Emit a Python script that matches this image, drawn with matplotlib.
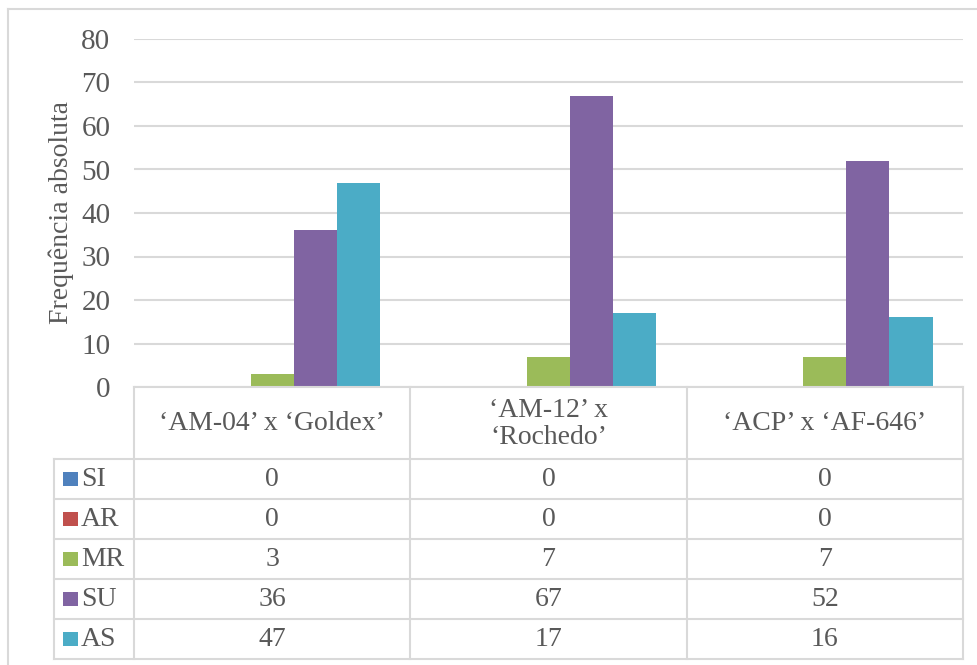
import numpy as np
import matplotlib
matplotlib.use("Agg")
import matplotlib.pyplot as plt
from matplotlib.lines import Line2D
from matplotlib.patches import Rectangle
from matplotlib.transforms import blended_transform_factory

# ─── Data ─────────────────────────────────────────────────────────────────────
categories = ["‘AM-04’ x ‘Goldex’", "‘AM-12’ x\n‘Rochedo’", "‘ACP’ x ‘AF-646’"]
series = ["SI", "AR", "MR", "SU", "AS"]
si = [0, 0, 0]
ar = [0, 0, 0]
mr = [3, 7, 7]
su = [36, 67, 52]
as_ = [47, 17, 16]
values = [si, ar, mr, su, as_]
colors = ["#4F81BD", "#C0504D", "#9BBB59", "#8064A2", "#4BACC6"]
yticks = [0, 10, 20, 30, 40, 50, 60, 70, 80]

# ─── Layout (pixel positions in a 978x665 canvas) ────────────────────────────
W, H = 978, 665
TXT = "#595959"
GRID = "#D9D9D9"
FONT = "Liberation Serif"
FS = 20


def fx(px):
    return px / W


def fy(py):
    return 1 - py / H


plt.rcParams["font.family"] = [FONT, "DejaVu Serif"]

fig = plt.figure(figsize=(W / 100, H / 100), dpi=100, facecolor="white")
ax = fig.add_axes([fx(134), fy(387), fx(963) - fx(134), fy(39) - fy(387)])
ax.set_xlim(-0.5, len(categories) - 0.5)
ax.set_ylim(0, 80)
for s in ax.spines.values():
    s.set_visible(False)
ax.set_xticks([])
ax.set_yticks(yticks)
ax.tick_params(axis="y", length=0, labelsize=21, labelcolor=TXT, pad=17)
ax.yaxis.grid(True, color=GRID, linewidth=1.5)
ax.set_axisbelow(True)
fig.text(fx(61), fy(213), "Frequência absoluta", rotation=90, ha="center",
         va="center", fontsize=FS, color=TXT)

# ── Bars ─────────────────────────────────────────────────────────────────────
x = np.arange(len(categories))
bw = 0.156
for i, (vals, col) in enumerate(zip(values, colors)):
    ax.bar(x + (i - 2) * bw, vals, width=bw, color=col, edgecolor="none", zorder=3)

# ── Data table ───────────────────────────────────────────────────────────────
bt = blended_transform_factory(ax.transData, fig.transFigure)
lw = 1.5
row_y = [459, 499, 539, 579, 619, 659]
table_bottom = row_y[-1]

# horizontal lines
fig.add_artist(Line2D([-0.5, len(categories) - 0.5], [fy(387)] * 2,
                      transform=bt, color=GRID, lw=lw))
for ry in row_y:
    fig.add_artist(Line2D([fx(54), fx(963)], [fy(ry)] * 2,
                          transform=fig.transFigure, color=GRID, lw=lw))
# vertical lines
for b in np.arange(len(categories) + 1) - 0.5:
    fig.add_artist(Line2D([b, b], [fy(387), fy(table_bottom)],
                          transform=bt, color=GRID, lw=lw))
fig.add_artist(Line2D([fx(54), fx(54)], [fy(459), fy(table_bottom)],
                      transform=fig.transFigure, color=GRID, lw=lw))

# header labels
for xi, cat in zip(x, categories):
    fig.text(xi, fy(424), cat, transform=bt, ha="center", va="center",
             fontsize=FS, color=TXT, linespacing=1.1)

# rows
for r, (name, vals, col) in enumerate(zip(series, values, colors)):
    cy = (row_y[r] + row_y[r + 1]) / 2
    fig.add_artist(Rectangle((fx(63), fy(cy + 7)), fx(15), 14 / H,
                             transform=fig.transFigure, facecolor=col,
                             edgecolor="none"))
    fig.text(fx(81), fy(cy), name, ha="left", va="center", fontsize=FS, color=TXT)
    for xi, v in zip(x, vals):
        fig.text(xi, fy(cy), str(v), transform=bt, ha="center", va="center",
                 fontsize=FS, color=TXT)

# outer chart border
fig.add_artist(Line2D([fx(8), fx(978)], [fy(9)] * 2, transform=fig.transFigure,
                      color=GRID, lw=1.5))
fig.add_artist(Line2D([fx(8), fx(8)], [fy(9), 0], transform=fig.transFigure,
                      color=GRID, lw=1.5))

fig.savefig("out.png", dpi=100, facecolor="white")
